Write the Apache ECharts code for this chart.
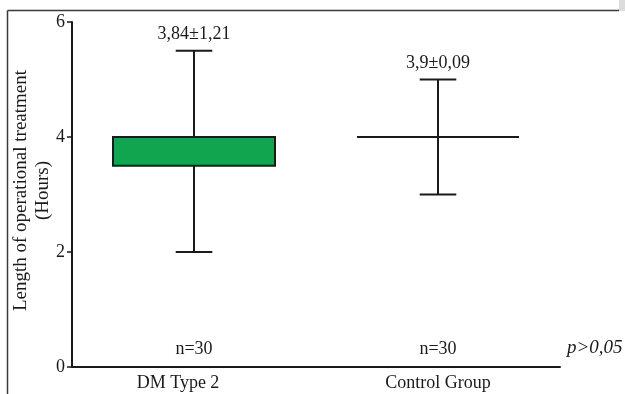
<!DOCTYPE html>
<html>
<head>
<meta charset="utf-8">
<script src="https://cdn.jsdelivr.net/npm/echarts@6/dist/echarts.min.js"></script>
<style>
  html, body { margin: 0; padding: 0; background: #fff; }
  #chart { width: 625px; height: 394px; }
</style>
</head>
<body>
<div id="chart"></div>
<script>
// Groups and their summary statistics (hours)
const categories = ['DM Type 2', 'Control Group'];
const whiskerLow = [2, 3];
const q1 = [3.5, 4];
const median = [4, 4];
const q3 = [4, 4];
const whiskerHigh = [5.5, 5];
const meanSdLabels = ['3,84±1,21', '3,9±0,09'];
const sampleLabels = ['n=30', 'n=30'];
const yTicks = [0, 2, 4, 6];
const pValueText = 'p>0,05';

const FONT = '"Liberation Serif", "Times New Roman", serif';
const INK = '#1a1a1a';
const BOX_FILL = '#10a64f';

const boxData = categories.map((c, i) => [i, whiskerLow[i], q1[i], median[i], q3[i], whiskerHigh[i]]);

function renderBox(params, api) {
  const i = api.value(0);
  const band = api.size([1, 0])[0];
  const boxW = band * 0.664;
  const capW = band * 0.15;
  const pLow = api.coord([i, api.value(1)]);
  const pQ1 = api.coord([i, api.value(2)]);
  const pMed = api.coord([i, api.value(3)]);
  const pQ3 = api.coord([i, api.value(4)]);
  const pHigh = api.coord([i, api.value(5)]);
  const cx = pLow[0];
  const line = { stroke: INK, lineWidth: 2 };
  const children = [
    // lower whisker
    { type: 'line', shape: { x1: cx, y1: pQ1[1], x2: cx, y2: pLow[1] }, style: line },
    { type: 'line', shape: { x1: cx - capW / 2, y1: pLow[1], x2: cx + capW / 2, y2: pLow[1] }, style: line },
    // upper whisker
    { type: 'line', shape: { x1: cx, y1: pQ3[1], x2: cx, y2: pHigh[1] }, style: line },
    { type: 'line', shape: { x1: cx - capW / 2, y1: pHigh[1], x2: cx + capW / 2, y2: pHigh[1] }, style: line }
  ];
  const h = pQ1[1] - pQ3[1];
  if (h > 0.5) {
    children.push({
      type: 'rect',
      shape: { x: cx - boxW / 2, y: pQ3[1], width: boxW, height: h },
      style: { fill: BOX_FILL, stroke: INK, lineWidth: 2 }
    });
  }
  children.push({
    type: 'line',
    shape: { x1: cx - boxW / 2, y1: pMed[1], x2: cx + boxW / 2, y2: pMed[1] },
    style: line
  });
  // mean ± SD above the upper whisker
  children.push({
    type: 'text',
    style: {
      x: cx, y: pHigh[1] - 16,
      text: meanSdLabels[i],
      fill: INK, font: '18px ' + FONT,
      textAlign: 'center', textVerticalAlign: 'middle'
    }
  });
  // sample size above the baseline
  const base = api.coord([i, 0]);
  children.push({
    type: 'text',
    style: {
      x: cx, y: base[1] - 18,
      text: sampleLabels[i],
      fill: INK, font: '18px ' + FONT,
      textAlign: 'center', textVerticalAlign: 'middle'
    }
  });
  return { type: 'group', children };
}

const chart = echarts.init(document.getElementById('chart'), null, { renderer: 'canvas' });

chart.setOption({
  animation: false,
  backgroundColor: '#fff',
  grid: { left: 72, right: 65, top: 22, bottom: 27, containLabel: false, outerBoundsMode: 'none' },
  xAxis: {
    type: 'category',
    data: categories,
    boundaryGap: true,
    axisLine: { lineStyle: { color: INK, width: 2 } },
    axisTick: { alignWithLabel: true, length: 4, lineStyle: { color: INK, width: 1.5 } },
    axisLabel: {
      color: INK, fontFamily: FONT, fontSize: 18, margin: 7,
      formatter: (v, idx) => idx === 0 ? '{l|' + v + '}' : v,
      rich: { l: { color: INK, fontFamily: FONT, fontSize: 18, padding: [0, 32, 0, 0] } }
    }
  },
  yAxis: {
    type: 'value',
    min: yTicks[0],
    max: yTicks[yTicks.length - 1],
    interval: 2,
    name: 'Length of operational treatment\n(Hours)',
    nameLocation: 'middle',
    nameRotate: 90,
    nameGap: 18,
    nameMoveOverlap: false,
    nameTextStyle: { color: INK, fontFamily: FONT, fontSize: 19, lineHeight: 22, padding: [0, 0, 0, 8] },
    splitLine: { show: false },
    axisLine: { show: true, lineStyle: { color: INK, width: 2 } },
    axisTick: { show: true, length: 5, lineStyle: { color: INK, width: 1.5 } },
    axisLabel: { color: INK, fontFamily: FONT, fontSize: 18, margin: 7 }
  },
  graphic: [
    // outer frame (top and left rules)
    { type: 'line', shape: { x1: 7.5, y1: 10.5, x2: 619, y2: 10.5 }, style: { stroke: '#3a3a3a', lineWidth: 1.5 }, z: 100 },
    { type: 'line', shape: { x1: 7.5, y1: 10.5, x2: 7.5, y2: 394 }, style: { stroke: '#3a3a3a', lineWidth: 1.5 }, z: 100 },
    { type: 'rect', shape: { x: 619, y: 0, width: 6, height: 11 }, style: { fill: '#dcdcdc' }, z: 100 },
    // significance note
    {
      type: 'text', left: 567, top: 338,
      style: { text: pValueText, fill: INK, font: 'italic 19px ' + FONT }
    }
  ],
  series: [{
    type: 'custom',
    renderItem: renderBox,
    encode: { x: 0, y: [1, 2, 3, 4, 5] },
    data: boxData,
    clip: false
  }]
});
</script>
</body>
</html>
